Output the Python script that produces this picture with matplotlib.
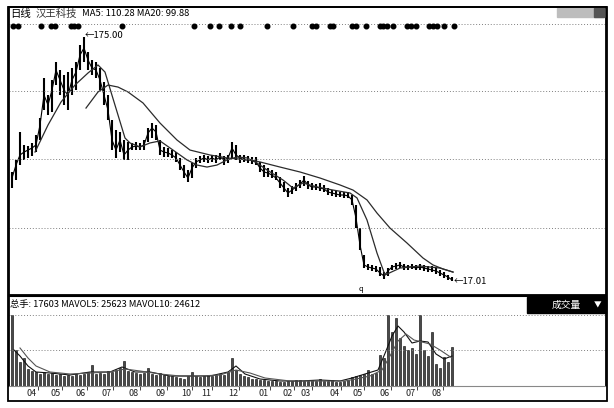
import matplotlib
matplotlib.use("Agg")
import matplotlib.pyplot as plt
from matplotlib.patches import Rectangle

plt.rcParams["font.family"] = ["Noto Sans CJK SC", "DejaVu Sans"]

# daily chart sampled roughly every 3 trading days
high = [87.6, 95.4, 113.5, 105.1, 104.4, 106.4, 111.5, 122.6, 148.5, 137.4,
        147.2, 158.8, 153.6, 150.4, 152.3, 154.9, 158.8, 169.8, 175.0, 165.3,
        160.1, 158.8, 154.9, 145.9, 137.4, 121.3, 114.8, 113.5, 108.3, 107.0,
        106.4, 107.0, 106.4, 108.3, 116.1, 119.3, 118.0, 108.3, 103.8, 103.1,
        101.8, 100.5, 96.7, 92.1, 88.9, 93.4, 96.7, 98.0, 98.6, 98.0,
        98.6, 98.6, 99.9, 98.0, 98.6, 107.0, 105.1, 98.6, 98.6, 98.0,
        97.3, 97.3, 94.1, 92.1, 90.2, 88.9, 87.6, 84.4, 81.1, 77.2,
        78.5, 80.5, 82.4, 85.0, 81.8, 80.5, 79.8, 80.5, 79.2, 77.2,
        75.9, 75.3, 74.6, 74.6, 74.6, 72.7, 66.2, 51.3, 33.8, 28.0,
        27.4, 26.7, 26.1, 22.8, 25.4, 27.4, 28.7, 29.3, 28.0, 27.4,
        28.0, 27.4, 28.0, 27.4, 26.7, 26.7, 25.4, 24.1, 22.8, 20.9, 19.6]
low = [77.2, 82.4, 92.1, 95.4, 96.7, 98.0, 100.5, 108.3, 127.7, 124.5,
       126.4, 143.9, 137.4, 131.0, 127.7, 137.4, 140.7, 153.6, 158.8, 153.6,
       150.4, 148.5, 140.7, 131.0, 121.3, 101.8, 96.7, 100.5, 95.4, 95.4,
       101.8, 101.8, 101.8, 101.8, 107.0, 109.6, 108.3, 98.6, 97.3, 97.3,
       96.7, 94.1, 88.9, 83.7, 81.1, 83.7, 90.2, 93.4, 94.1, 93.4,
       94.1, 93.4, 95.4, 92.1, 93.4, 96.7, 95.4, 93.4, 94.1, 93.4,
       92.8, 92.1, 87.6, 84.4, 84.4, 83.7, 82.4, 77.2, 74.6, 71.4,
       73.3, 75.3, 77.2, 78.5, 76.6, 75.9, 75.9, 75.3, 74.6, 72.7,
       72.1, 71.4, 71.4, 70.8, 70.8, 66.2, 51.3, 37.1, 25.4, 24.1,
       23.5, 22.8, 20.3, 18.3, 20.3, 24.1, 24.8, 25.4, 24.1, 24.1,
       24.8, 24.1, 24.1, 23.5, 22.8, 22.8, 21.5, 20.3, 19.0, 17.7, 17.01]
close = [83.7, 92.1, 98.6, 100.5, 101.8, 103.1, 105.1, 118.0, 137.4, 131.0,
         140.7, 153.6, 147.2, 140.7, 137.4, 147.2, 152.3, 163.3, 167.9, 160.1,
         154.9, 153.6, 147.2, 137.4, 127.7, 108.3, 101.8, 108.3, 98.6, 101.8,
         103.8, 104.4, 103.8, 105.1, 112.8, 116.1, 113.5, 101.8, 100.5, 99.9,
         98.6, 96.7, 92.1, 87.6, 83.7, 90.2, 94.1, 95.4, 96.7, 95.4,
         96.7, 95.4, 97.3, 95.4, 96.7, 103.1, 98.6, 96.7, 95.4, 95.4,
         95.4, 94.1, 90.2, 87.6, 86.9, 85.6, 83.7, 80.5, 77.2, 74.0,
         75.9, 77.9, 79.8, 82.4, 79.2, 77.9, 77.9, 77.2, 76.6, 74.6,
         74.0, 73.3, 72.7, 72.7, 72.1, 69.5, 57.8, 40.3, 27.4, 26.1,
         25.4, 24.8, 22.2, 20.3, 23.5, 26.1, 26.7, 27.4, 26.1, 26.1,
         26.1, 25.4, 26.1, 25.4, 24.8, 24.1, 23.5, 22.2, 20.9, 19.6, 17.7]

ma20_x = [5.75, 9, 12.25, 15.75, 19, 21.5, 23.25, 24.75, 26.5, 28.25,
          29.5, 32, 34.5, 37, 40.25, 43.75, 46.25, 48.75, 51.25, 53.75,
          56.25, 58.75, 61.25, 63.75, 67.75, 70.25, 72.75, 76.25, 80.25, 84.5,
          86.25, 88.75, 91.25, 93.25, 97, 102, 107, 110.25]
ma20 = [100.5, 118.0, 132.9, 143.9, 151.7, 156.9, 152.3, 139.4, 124.5, 109.6,
        106.4, 103.8, 106.4, 107.7, 101.8, 95.4, 92.1, 90.8, 92.1, 95.4,
        97.3, 96.7, 93.4, 88.9, 82.4, 77.2, 80.5, 77.9, 75.9, 74.0,
        70.8, 56.5, 35.1, 20.9, 25.4, 26.7, 25.4, 22.8]
ma60_x = [18.5, 21.5, 24, 26.5, 29, 32.75, 37, 41.25, 44.5, 49.5,
          53.75, 59.5, 62, 67, 72, 77, 82, 85.25, 88.75, 91.25,
          94.5, 98.75, 102.75, 105.25, 107.75, 110.25]
ma60 = [129.0, 139.4, 143.9, 142.6, 139.4, 132.3, 119.3, 108.3, 101.8, 98.6,
        96.7, 95.4, 94.1, 90.8, 87.6, 83.7, 79.2, 75.9, 69.5, 61.0,
        51.3, 41.6, 31.9, 27.4, 24.8, 22.8]

signal_x = [0.25, 1.5, 7.25, 9.75, 10.75, 14.75, 15.5, 16.5, 27.5, 45.5,
            49.5, 51.75, 54.75, 57, 63.75, 70.25, 75, 76, 79.5, 80.25,
            85, 86, 88.5, 92, 92.75, 93.75, 95.25, 98.75, 99.75, 101,
            104.25, 105.25, 106.25, 108, 110.5]

volume = [35500, 18000, 12000, 14000, 8500, 7500, 7000, 6000, 7000, 6000,
          6500, 5500, 6000, 5000, 5500, 5000, 6000, 5500, 6000, 7000,
          10500, 6000, 6500, 6000, 7500, 7000, 8000, 9000, 12500, 7500,
          7000, 6500, 6000, 6500, 9000, 6000, 5500, 6500, 5500, 5000,
          5000, 4500, 4000, 3500, 5000, 7000, 5000, 4500, 5000, 5500,
          5000, 5500, 6000, 5500, 7000, 14000, 8000, 6000, 5000, 4500,
          3500, 3500, 3000, 3000, 2500, 2500, 2500, 2000, 2000, 2500,
          2500, 3000, 3000, 2500, 2500, 3000, 2500, 3500, 2500, 2500,
          3000, 2000, 2000, 2500, 3000, 4500, 5000, 5500, 6000, 8000,
          6000, 6500, 15500, 14000, 35500, 27000, 34000, 24000, 20000, 18000,
          19000, 16000, 35500, 18000, 15000, 27000, 11000, 9000, 14500, 12000, 19500]
vma5_x = [0.5, 2, 4, 6, 9.5, 14.5, 19.5, 24.5, 27.5, 30.75,
          34.5, 39.5, 44.5, 49.5, 54, 56, 58.25, 62, 67, 72,
          77, 82, 85, 88.25, 91.5, 93.5, 95, 96.5, 98, 100,
          102, 104, 106, 108, 110]
vma5 = [18000, 15000, 10000, 7000, 6500, 5500, 7000, 7000, 9500, 7000,
        7000, 5000, 5000, 5000, 7000, 10000, 6000, 3500, 2500, 2500,
        3000, 2500, 4000, 6000, 8000, 17500, 25000, 30000, 27000, 21500,
        22500, 22000, 16000, 13500, 15000]
vma10_x = [2, 4, 6, 9.5, 14.5, 19.5, 24.5, 28.25, 32, 37,
           42, 47, 52, 56, 59.5, 63.25, 69.5, 77, 83.25, 86,
           89.5, 92.5, 94.5, 96.5, 98.5, 100.5, 102.5, 104.5, 107, 110]
vma10 = [19000, 14000, 10000, 7000, 6000, 6500, 7000, 8500, 7500, 6000,
         5000, 5000, 5500, 8000, 6500, 4000, 2500, 2500, 2500, 3500,
         5000, 8000, 15000, 22500, 26000, 23000, 22000, 21000, 18000, 14000]

month_pos = [5.0, 11.0, 17.25, 23.75, 30.5, 37.25, 43.5, 48.5, 55.25, 63.0,
             69.0, 73.5, 80.75, 86.5, 93.25, 99.75, 106.25]
month_labels = ["04", "05", "06", "07", "08", "09", "10", "11", "12", "01",
                "02", "03", "04", "05", "06", "07", "08"]
price_grid = [140.0, 96.0, 51.3]
vol_grid = [18000, 35500]

W, H = 614, 408
fig = plt.figure(figsize=(W / 100, H / 100), dpi=100)
ax = fig.add_axes([9 / W, 1 - 295 / H, 597 / W, 288 / H])
axv = fig.add_axes([9 / W, 1 - 386 / H, 597 / W, 90 / H])

xs = list(range(len(close)))
dots = (0, (1, 2))

# price panel
ax.vlines(xs, low, high, color="black", lw=1.5)
ax.plot(xs, close, color="black", lw=0.8)
ax.plot(ma20_x, ma20, color="#2b2b2b", lw=0.9)
ax.plot(ma60_x, ma60, color="#2b2b2b", lw=0.9)
for g in price_grid:
    ax.axhline(g, color="#808080", lw=0.7, ls=dots)
ax.axhline(183.2, color="#808080", lw=0.7, ls=dots)
ax.plot(signal_x, [182.4] * len(signal_x), "o", ms=3.3, color="black")
ax.text(18.2, 176.0, "←175.00", fontsize=6.8, va="center", ha="left")
ax.text(110.3, 17.0, "←17.01", fontsize=6.8, va="center", ha="left")
ax.text(87.3, 12.0, "q", fontsize=5.5, va="center", ha="center")
ax.set_xlim(-0.75, 148.5)
ax.set_ylim(7.95, 194.43)
ax.set_xticks([])
ax.set_yticks([])
for s in ax.spines.values():
    s.set_linewidth(1.3)

# volume panel
axv.bar(xs, volume, width=0.55, color="#4a4a4a", edgecolor="black", lw=0.4)
axv.plot(vma5_x, vma5, color="#111111", lw=0.8)
axv.plot(vma10_x, vma10, color="#555555", lw=0.8)
for g in vol_grid:
    axv.axhline(g, color="#808080", lw=0.7, ls=dots)
axv.set_xlim(-0.75, 148.5)
axv.set_ylim(0, 45000)
axv.set_yticks([])
axv.set_xticks(month_pos)
axv.set_xticklabels(month_labels, fontsize=6.5, color="#222222")
axv.set_xticks([p + 1.6 for p in month_pos], minor=True)
axv.tick_params(axis="x", which="major", length=0, pad=2)
axv.tick_params(axis="x", which="minor", length=3, width=0.7, color="#444444")
axv.spines["top"].set_linewidth(1.5)
axv.spines["left"].set_linewidth(1.3)
axv.spines["right"].set_linewidth(1.3)
axv.spines["bottom"].set_color("#888888")
axv.spines["bottom"].set_linewidth(0.8)

# headers
fig.text(10 / W, 1 - 14 / H, "日线", fontsize=7.5, va="center")
fig.text(36 / W, 1 - 14 / H, "汉王科技", fontsize=7.5, va="center", color="#333333")
fig.text(82 / W, 1 - 14 / H, "MA5: 110.28 MA20: 99.88", fontsize=6.8, va="center")
fig.text(10 / W, 1 - 305 / H, "总手: 17603 MAVOL5: 25623 MAVOL10: 24612",
         fontsize=6.7, va="center")

# "成交量" selector box and top-right buttons
fig.add_artist(Rectangle((527 / W, 1 - 313 / H), 79 / W, 16 / H,
                         transform=fig.transFigure, color="black"))
fig.text(566 / W, 1 - 305 / H, "成交量", fontsize=7, color="white",
         va="center", ha="center")
fig.text(598 / W, 1 - 305 / H, "▼", fontsize=5.5, color="white",
         va="center", ha="center")
fig.add_artist(Rectangle((557 / W, 1 - 17 / H), 47 / W, 9 / H,
                         transform=fig.transFigure, color="#bdbdbd"))
fig.add_artist(Rectangle((594 / W, 1 - 17 / H), 10 / W, 9 / H,
                         transform=fig.transFigure, color="#555555"))

# outer frame bottom edge
fig.add_artist(Rectangle((8 / W, 1 - 401 / H), 599 / W, 394 / H,
                         transform=fig.transFigure, fill=False,
                         edgecolor="black", lw=1.3))

fig.savefig("out.png", dpi=100)
